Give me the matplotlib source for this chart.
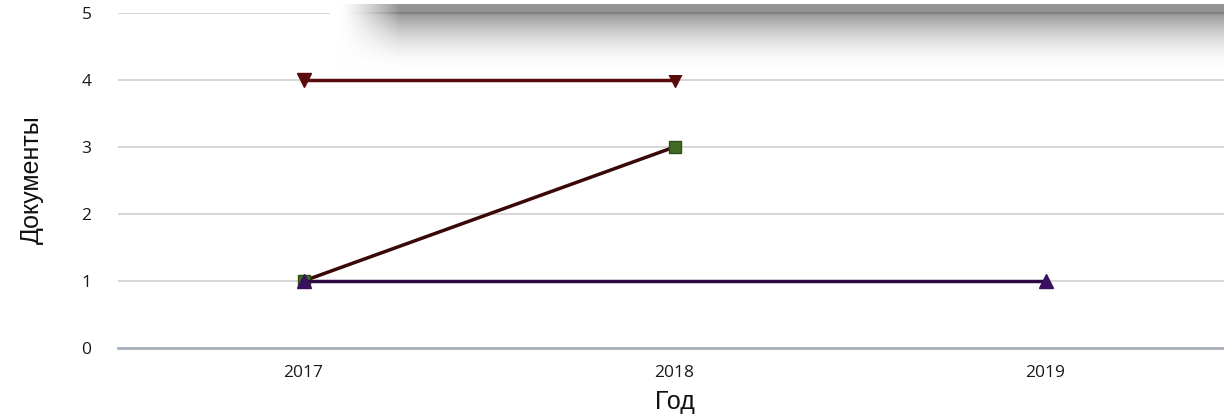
import numpy as np
import matplotlib
matplotlib.use("Agg")
import matplotlib.pyplot as plt

years = ["2017", "2018", "2019"]
series_a_x = [0, 1]
series_a_y = [4, 4]
series_b_x = [0, 1]
series_b_y = [1, 3]
series_c_x = [0, 2]
series_c_y = [1, 1]
y_ticks = [0, 1, 2, 3, 4, 5]

W, H = 1224, 416
fig = plt.figure(figsize=(W / 100, H / 100), dpi=100)
left = 118 / W
right = 1231 / W
bottom = (H - 348) / H
top = (H - 13) / H
ax = fig.add_axes([left, bottom, right - left, top - bottom])

ax.set_xlim(-0.5, 2.5)
ax.set_ylim(0, 5)
ax.set_yticks(y_ticks)
ax.set_xticks(range(len(years)))
ax.set_xticklabels(years)
ax.grid(axis="y", color="#d0d0d0", linewidth=1.2)
ax.set_axisbelow(True)
for s in ["top", "right", "left"]:
    ax.spines[s].set_visible(False)
ax.spines["bottom"].set_color("#a8b0bc")
ax.spines["bottom"].set_linewidth(2)
ax.spines["bottom"].set_zorder(1)
ax.tick_params(axis="both", length=0, labelsize=12.5, colors="#1a1a1a")
ax.tick_params(axis="y", pad=19)
ax.tick_params(axis="x", pad=12)
for lab in ax.get_xticklabels() + ax.get_yticklabels():
    lab.set_family("Open Sans")

ax.plot(series_a_x, series_a_y, color="#5a0c0c", linewidth=2.5, marker="v",
        markersize=10, markerfacecolor="#5a0c0c", markeredgecolor="#5a0c0c", zorder=3)
ax.plot(series_b_x, series_b_y, color="#3a0808", linewidth=2.5, marker="s",
        markersize=8.5, markerfacecolor="#3f6b22", markeredgecolor="#2c5018", zorder=3)
ax.plot(series_c_x, series_c_y, color="#2c0a45", linewidth=2.5, marker="^",
        markersize=9.5, markerfacecolor="#3a1060", markeredgecolor="#3a1060", zorder=4)

fig.text(32 / W, 1 - 180 / H, "Документы", rotation=90, ha="center", va="center",
         fontsize=18, family="Liberation Sans", color="#111111")
fig.text(675 / W, 1 - 402 / H, "Год", ha="center", va="center",
         fontsize=18, family="Liberation Sans", color="#111111")

# tooltip shadow decoration at the top right
x0, x1, y0, y1 = 330, W, 0, 75
sax = fig.add_axes([x0 / W, (H - y1) / H, (x1 - x0) / W, (y1 - y0) / H])
sax.set_axis_off()
ny, nx = y1 - y0, x1 - x0
yy = np.arange(ny)[:, None] + y0 + 0.5
xx = np.arange(nx)[None, :] + x0 + 0.5
dv = np.where(yy < 4, 0.0,
              np.where(yy < 12, 0.42,
                       np.where(yy < 14, 0.5,
                                0.40 * np.clip(1 - (yy - 14) / 56.0, 0, 1) ** 1.8)))
dh = np.clip((xx - 340) / 60.0, 0, 1) ** 1.3
dark = dv * dh
shade = 1 - dark
box = (yy < 4) & (xx >= 346)
shade = np.where(box, 1.0, shade)
sax.imshow(np.dstack([shade, shade, shade]), aspect="auto", extent=[0, 1, 0, 1],
           interpolation="bilinear")
sax.set_xlim(0, 1)
sax.set_ylim(0, 1)

fig.savefig("out.png", dpi=100)
